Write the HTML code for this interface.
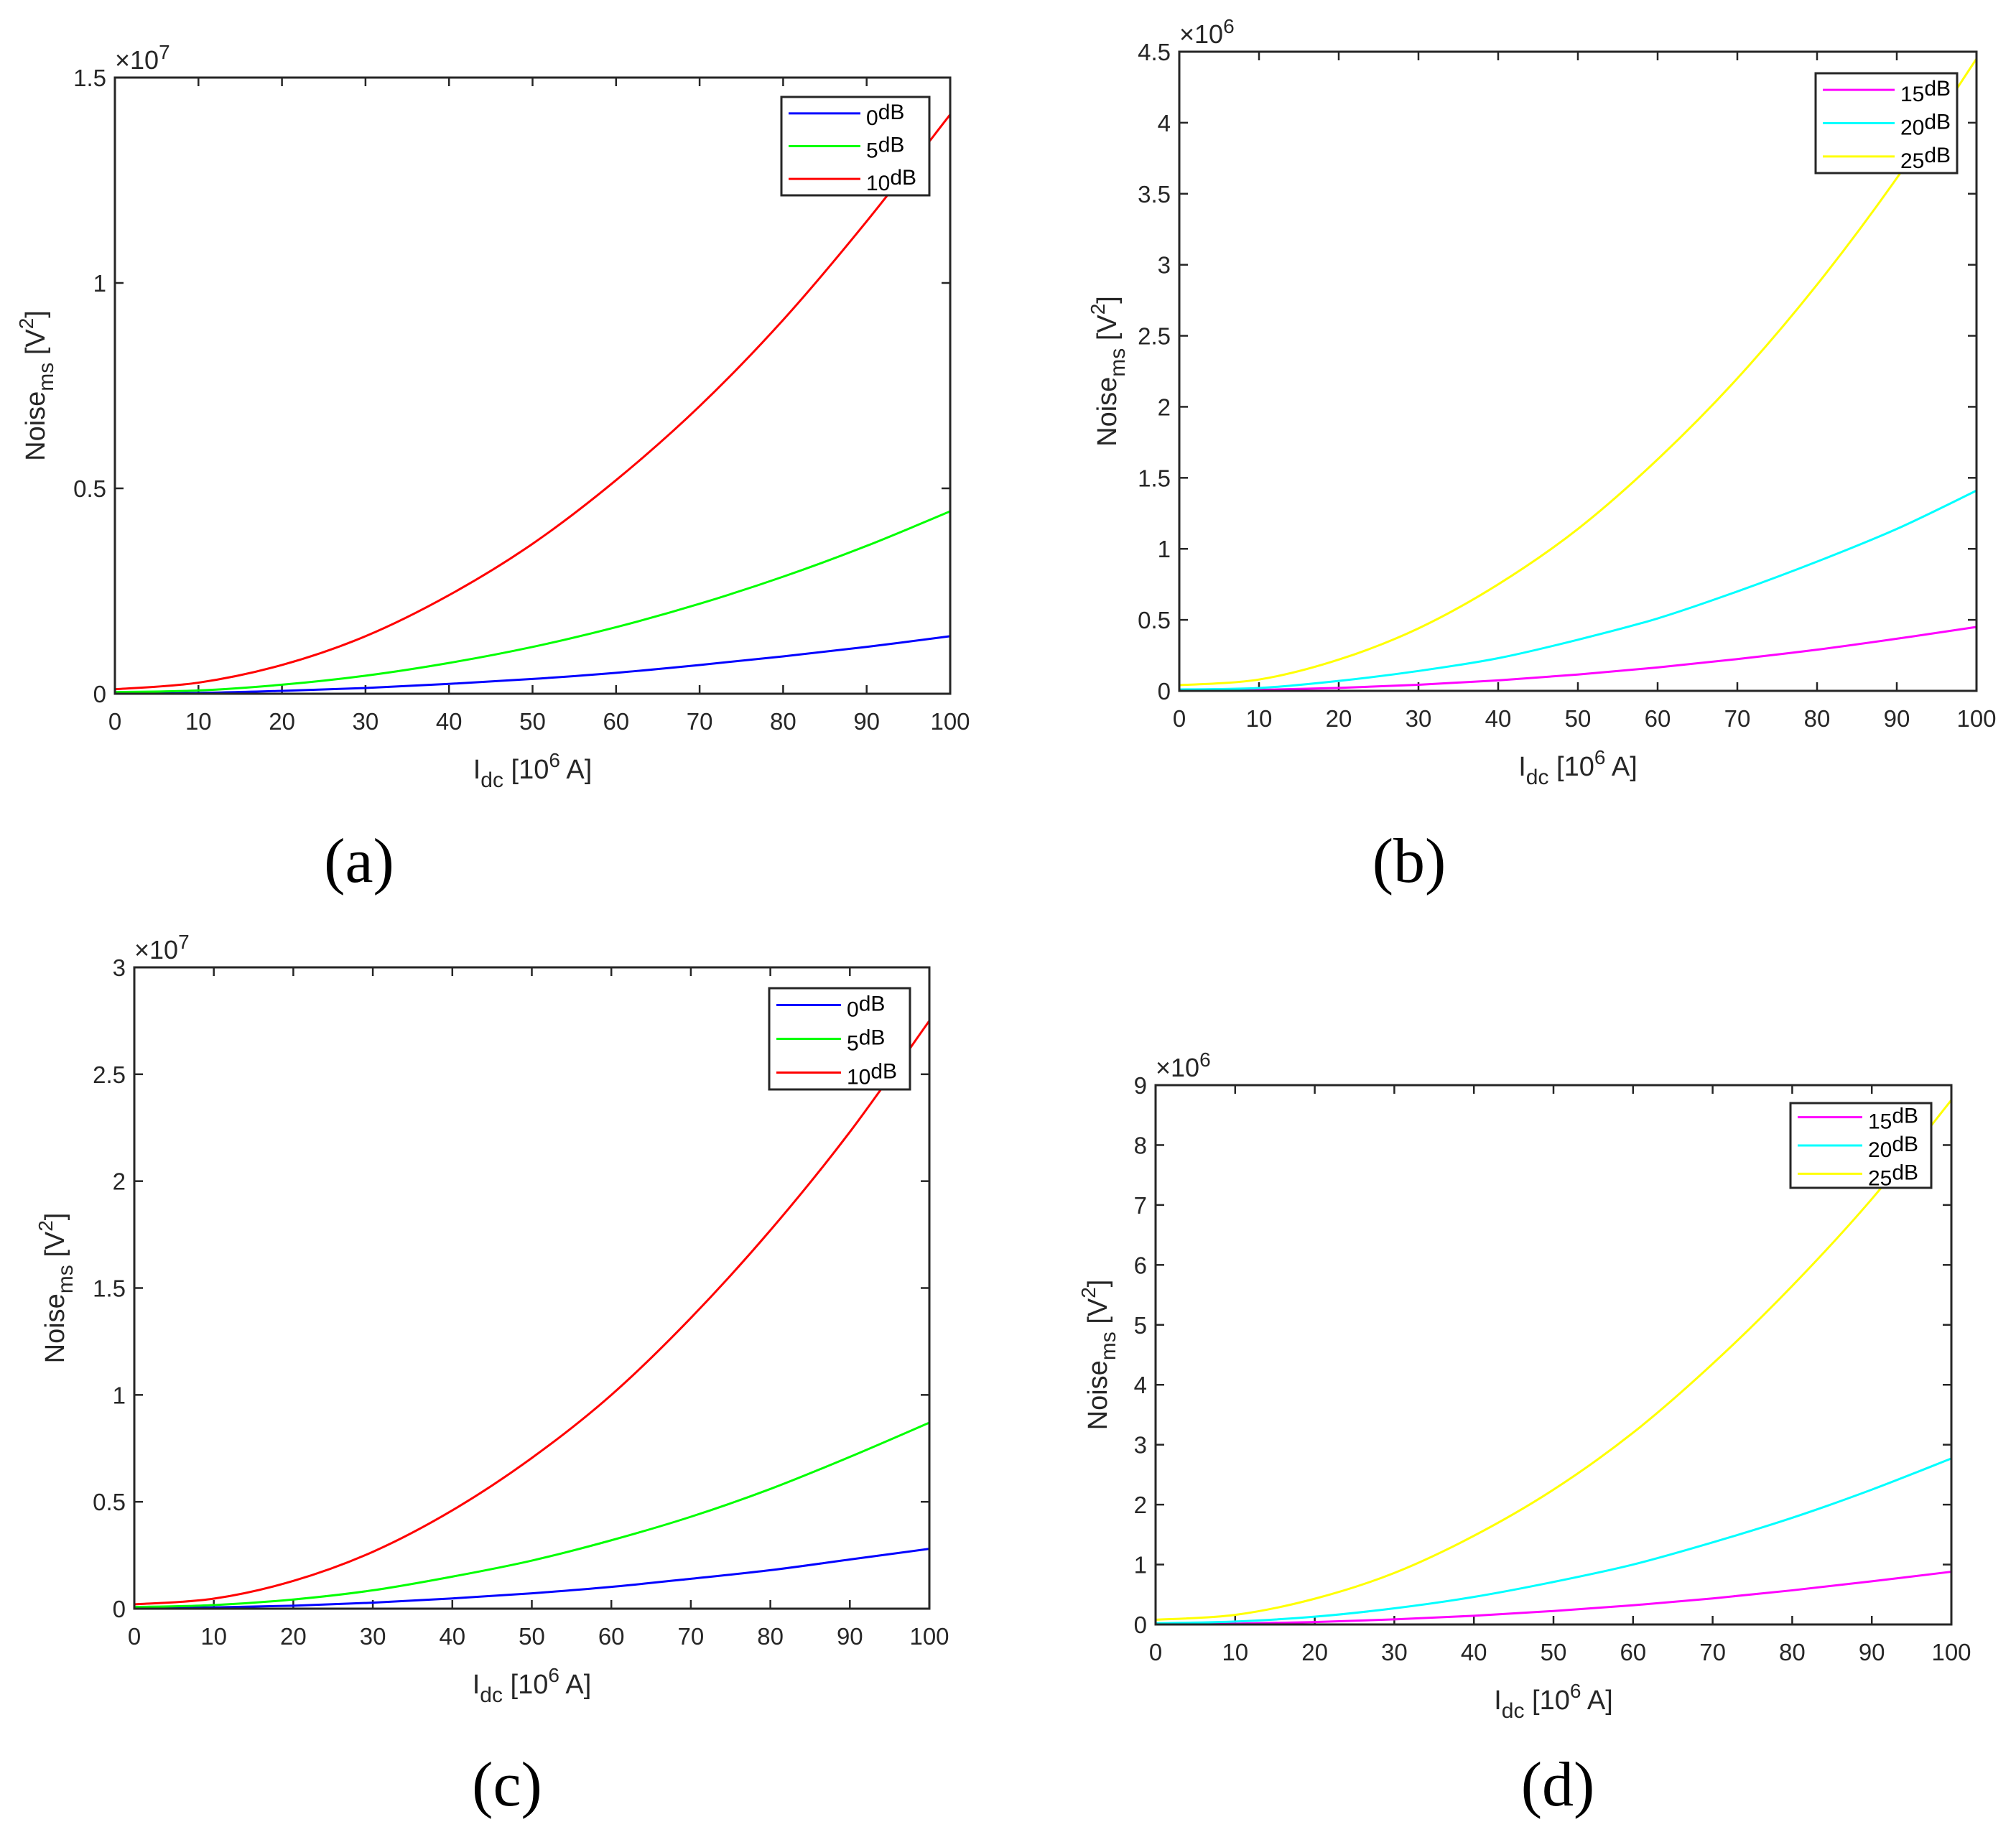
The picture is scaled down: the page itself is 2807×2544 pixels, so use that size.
<!DOCTYPE html>
<html><head><meta charset="utf-8">
<style>
html,body{margin:0;padding:0;background:#fff;}
svg{display:block;font-family:"Liberation Sans",sans-serif;}
</style></head>
<body>
<svg id="fig" width="2807" height="2544" viewBox="0 0 2807 2544" xmlns="http://www.w3.org/2000/svg"></svg>
<script>
const xVals = [0,10,20,30,40,50,60,70,80,90,100];
const xTicks = [0,10,20,30,40,50,60,70,80,90,100];
// panel (a) values in units of 1e7
const aBlue  = [0.001,0.002,0.007,0.014,0.024,0.036,0.051,0.07,0.091,0.114,0.14];
const aGreen = [0.004,0.008,0.022,0.044,0.075,0.114,0.162,0.219,0.285,0.36,0.444];
const aRed   = [0.011,0.027,0.07,0.14,0.24,0.365,0.52,0.70,0.91,1.15,1.41];
const aTicks = [0,0.5,1,1.5];
const aTickLabels = ["0","0.5","1","1.5"];
// panel (b) values in units of 1e6
const bMagenta = [0.003,0.007,0.021,0.043,0.074,0.115,0.165,0.224,0.29,0.367,0.45];
const bCyan    = [0.01,0.02,0.07,0.14,0.23,0.36,0.51,0.70,0.91,1.14,1.41];
const bYellow  = [0.04,0.08,0.22,0.44,0.75,1.14,1.63,2.20,2.86,3.61,4.45];
const bTicks = [0,0.5,1,1.5,2,2.5,3,3.5,4,4.5];
const bTickLabels = ["0","0.5","1","1.5","2","2.5","3","3.5","4","4.5"];
// panel (c) values in units of 1e7
const cBlue  = [0.003,0.006,0.014,0.028,0.048,0.072,0.102,0.14,0.18,0.23,0.28];
const cGreen = [0.008,0.017,0.043,0.086,0.15,0.225,0.32,0.43,0.56,0.71,0.87];
const cRed   = [0.02,0.047,0.13,0.266,0.46,0.705,1.0,1.36,1.77,2.23,2.75];
const cTicks = [0,0.5,1,1.5,2,2.5,3];
const cTickLabels = ["0","0.5","1","1.5","2","2.5","3"];
// panel (d) values in units of 1e6
const dMagenta = [0.005,0.014,0.04,0.085,0.145,0.225,0.32,0.435,0.57,0.72,0.88];
const dCyan    = [0.02,0.05,0.13,0.27,0.46,0.71,1.0,1.37,1.78,2.25,2.77];
const dYellow  = [0.08,0.16,0.43,0.86,1.48,2.25,3.2,4.35,5.65,7.1,8.75];
const dTicks = [0,1,2,3,4,5,6,7,8,9];
const dTickLabels = ["0","1","2","3","4","5","6","7","8","9"];

const NS = "http://www.w3.org/2000/svg";
const svg = document.getElementById('fig');
function mk(tag, attrs, parent, txt){
  const e = document.createElementNS(NS, tag);
  for (const k in attrs) e.setAttribute(k, attrs[k]);
  if (txt !== undefined) e.textContent = txt;
  (parent || svg).appendChild(e);
  return e;
}
function smoothPath(pts){
  let d = "M" + pts[0][0] + "," + pts[0][1];
  for (let i = 0; i < pts.length - 1; i++){
    const p0 = pts[Math.max(0,i-1)], p1 = pts[i], p2 = pts[i+1], p3 = pts[Math.min(pts.length-1,i+2)];
    const c1x = p1[0] + (p2[0]-p0[0])/6, c1y = p1[1] + (p2[1]-p0[1])/6;
    const c2x = p2[0] - (p3[0]-p1[0])/6, c2y = p2[1] - (p3[1]-p1[1])/6;
    d += " C" + c1x + "," + c1y + " " + c2x + "," + c2y + " " + p2[0] + "," + p2[1];
  }
  return d;
}

function panel(cfg){
  const g = mk('g', {});
  
  
  const L = cfg.L, R = cfg.R, T = cfg.T, B = cfg.B;
  const xs = v => L + (v - 0) / 100 * (R - L);
  const ys = v => B - v / cfg.ymax * (B - T);
  mk('rect', {x:L, y:T, width:R-L, height:B-T, fill:'#fff', stroke:'none'}, g);
  const tl = 12;
  xTicks.forEach((t, i) => {
    const x = xs(t);
    mk('line', {x1:x, y1:B, x2:x, y2:B-tl, stroke:'#262626', 'stroke-width':2.5}, g);
    mk('line', {x1:x, y1:T, x2:x, y2:T+tl, stroke:'#262626', 'stroke-width':2.5}, g);
    const tx = mk('text', {x:x, y:B+50, 'font-size':33, fill:'#262626', 'text-anchor':'middle'}, g, String(t));
    
    
  });
  cfg.yTicks.forEach((t, i) => {
    const y = ys(t);
    mk('line', {x1:L, y1:y, x2:L+tl, y2:y, stroke:'#262626', 'stroke-width':2.5}, g);
    mk('line', {x1:R, y1:y, x2:R-tl, y2:y, stroke:'#262626', 'stroke-width':2.5}, g);
    const tx = mk('text', {x:L-12, y:y+12, 'font-size':33, fill:'#262626', 'text-anchor':'end'}, g, cfg.yLabels[i]);
    
    
  });
  cfg.series.forEach(s => {
    const pts = xVals.map((x, i) => [xs(x), ys(s.data[i])]);
    const p = mk('path', {d:smoothPath(pts), fill:'none', stroke:s.color, 'stroke-width':3}, g);
    
    
  });
  mk('rect', {x:L, y:T, width:R-L, height:B-T, fill:'none', stroke:'#262626', 'stroke-width':3}, g);
  const ex = mk('text', {x:L, y:T-12, 'font-size':36, fill:'#262626'}, g);
  
  
  mk('tspan', {}, ex, '×10');
  mk('tspan', {dy:-14, 'font-size':28}, ex, cfg.exp);
  const xl = mk('text', {x:(L+R)/2, y:B+118, 'font-size':38, fill:'#262626', 'text-anchor':'middle'}, g);
  
  
  mk('tspan', {}, xl, 'I');
  mk('tspan', {dy:12, 'font-size':30}, xl, 'dc');
  mk('tspan', {dy:-12}, xl, ' [10');
  mk('tspan', {dy:-16, 'font-size':28}, xl, '6');
  mk('tspan', {dy:16}, xl, ' A]');
  const yx = L - cfg.ylOff, yy = (T+B)/2;
  const yl = mk('text', {x:0, y:0, 'font-size':38, fill:'#262626', 'text-anchor':'middle', transform:'translate(' + yx + ',' + yy + ') rotate(-90)'}, g);
  
  
  mk('tspan', {}, yl, 'Noise');
  mk('tspan', {dy:12, 'font-size':30}, yl, 'ms');
  mk('tspan', {dy:-12}, yl, ' [V');
  mk('tspan', {dy:-16, 'font-size':28}, yl, '2');
  mk('tspan', {dy:16}, yl, ']');
  const lg = cfg.leg;
  const lgG = mk('g', {}, g);
  
  
  mk('rect', {x:lg.x, y:lg.y, width:lg.w, height:lg.h, fill:'#fff', stroke:'#262626', 'stroke-width':3}, lgG);
  const rowH = lg.h / 3;
  cfg.series.forEach((s, i) => {
    const cy = lg.y + rowH * (i + 0.5);
    const eg = mk('g', {}, lgG);
    
    
    mk('line', {x1:lg.x+10, y1:cy, x2:lg.x+lg.lineW, y2:cy, stroke:s.color, 'stroke-width':3}, eg);
    const t = mk('text', {x:lg.x+lg.lineW+8, y:cy+16, 'font-size':30, fill:'#000'}, eg);
    mk('tspan', {}, t, s.label);
    mk('tspan', {dy:-8}, t, 'dB');
  });
}

panel({id:'a', L:160, R:1323, T:108, B:966, ymax:1.5, yTicks:aTicks, yLabels:aTickLabels, exp:'7', ylOff:98,
  leg:{x:1088, y:135, w:206, h:137, lineW:110},
  series:[{name:'0db', label:'0', color:'#0000ff', data:aBlue},{name:'5db', label:'5', color:'#00ff00', data:aGreen},{name:'10db', label:'10', color:'#ff0000', data:aRed}]});
panel({id:'b', L:1642, R:2752, T:72, B:962, ymax:4.5, yTicks:bTicks, yLabels:bTickLabels, exp:'6', ylOff:88,
  leg:{x:2528, y:102, w:197, h:139, lineW:110},
  series:[{name:'15db', label:'15', color:'#ff00ff', data:bMagenta},{name:'20db', label:'20', color:'#00ffff', data:bCyan},{name:'25db', label:'25', color:'#ffff00', data:bYellow}]});
panel({id:'c', L:187, R:1294, T:1347, B:2240, ymax:3, yTicks:cTicks, yLabels:cTickLabels, exp:'7', ylOff:98,
  leg:{x:1071, y:1376, w:196, h:141, lineW:100},
  series:[{name:'0db', label:'0', color:'#0000ff', data:cBlue},{name:'5db', label:'5', color:'#00ff00', data:cGreen},{name:'10db', label:'10', color:'#ff0000', data:cRed}]});
panel({id:'d', L:1609, R:2717, T:1511, B:2262, ymax:9, yTicks:dTicks, yLabels:dTickLabels, exp:'6', ylOff:68,
  leg:{x:2493, y:1536, w:196, h:118, lineW:100},
  series:[{name:'15db', label:'15', color:'#ff00ff', data:dMagenta},{name:'20db', label:'20', color:'#00ffff', data:dCyan},{name:'25db', label:'25', color:'#ffff00', data:dYellow}]});

[['(a)',500,1228],['(b)',1962,1228],['(c)',706,2514],['(d)',2169,2514]].forEach(c => {
  const t = mk('text', {x:c[1], y:c[2], 'font-size':88, 'font-family':'"Liberation Serif",serif', fill:'#000', 'text-anchor':'middle'}, svg, c[0]);
  
  
});
</script>
</body></html>
